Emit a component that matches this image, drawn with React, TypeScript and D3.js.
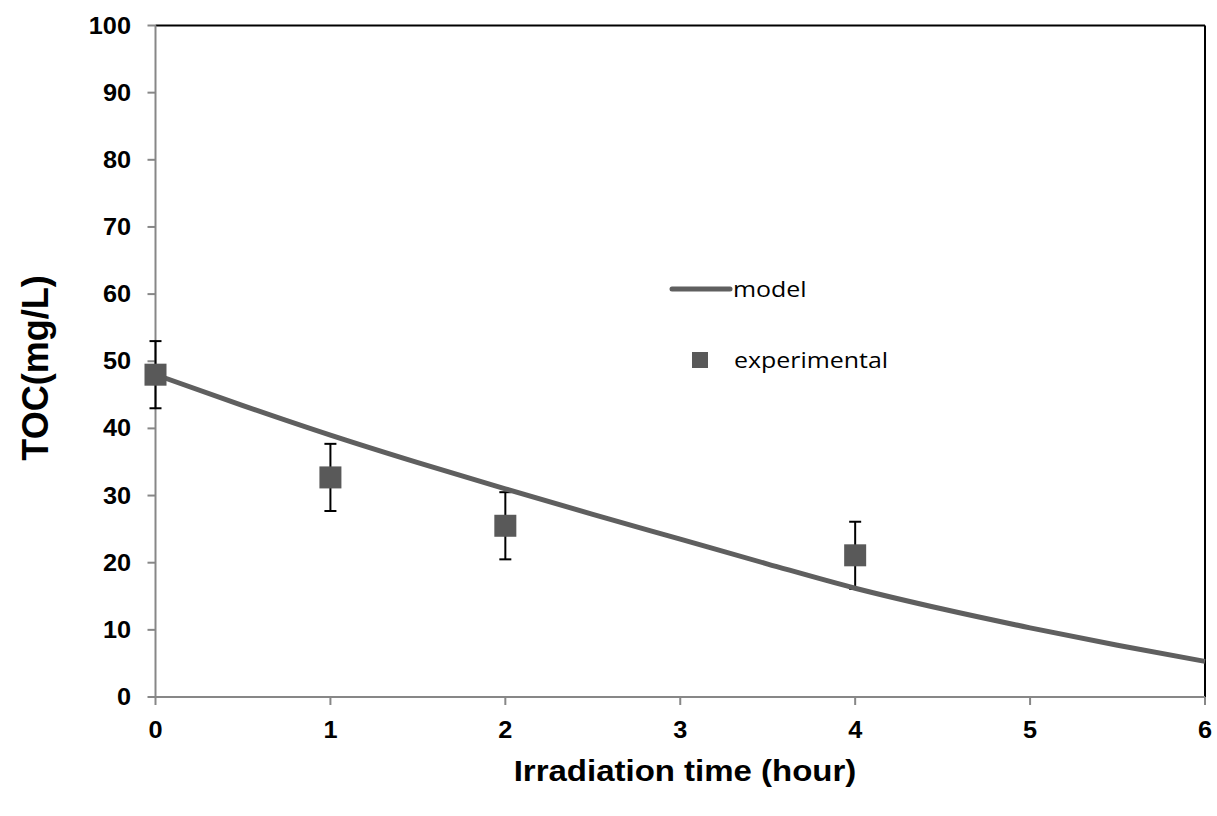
import React from "react";
import * as d3 from "d3";

const modelX = [0, 0.5, 1, 1.5, 2, 2.5, 3, 3.5, 4, 4.5, 5, 5.5, 6];
const modelY = [48, 43.4, 39.0, 34.9, 31.0, 27.2, 23.5, 19.8, 16.2, 13.1, 10.3, 7.7, 5.3];
const expX = [0, 1, 2, 4];
const expY = [48, 32.7, 25.5, 21.1];
const expErr = [5, 5, 5, 5];
const xTicks = [0, 1, 2, 3, 4, 5, 6];
const yTicks = [0, 10, 20, 30, 40, 50, 60, 70, 80, 90, 100];

export default function App() {
  const W = 1217, H = 816;
  const x = d3.scaleLinear().domain([0, 6]).range([155.5, 1205]);
  const y = d3.scaleLinear().domain([0, 100]).range([697, 25.5]);
  const line = d3
    .line<number>()
    .x((_, i) => x(modelX[i]))
    .y((d) => y(d))
    .curve(d3.curveMonotoneX);
  const bold = "Liberation Sans, Arial, sans-serif";
  const sx = 1.1;
  return (
    <svg width={W} height={H} style={{ position: "absolute", left: 0, top: 0, background: "#fff" }}>
      <rect width={W} height={H} fill="#fff" />
      <line x1={x(0)} x2={x(6)} y1={y(100)} y2={y(100)} stroke="#000" strokeWidth={2} />
      <line x1={x(6)} x2={x(6)} y1={y(100)} y2={y(0)} stroke="#000" strokeWidth={2} />
      <line x1={x(0)} x2={x(0)} y1={y(100)} y2={y(0)} stroke="#878787" strokeWidth={2} />
      {yTicks.map((t) => (
        <g key={"y" + t}>
          <line x1={x(0) - 8} x2={x(0)} y1={y(t)} y2={y(t)} stroke="#878787" strokeWidth={2} />
          <text
            transform={`translate(${131},${y(t) + 8}) scale(${sx},1)`}
            textAnchor="end"
            fontFamily={bold}
            fontWeight="bold"
            fontSize={23}
            fill="#000"
          >
            {t}
          </text>
        </g>
      ))}
      <line x1={x(0)} x2={x(6)} y1={y(0)} y2={y(0)} stroke="#878787" strokeWidth={2} />
      {xTicks.map((t) => (
        <g key={"x" + t}>
          <line x1={x(t)} x2={x(t)} y1={y(0)} y2={y(0) + 8} stroke="#878787" strokeWidth={2} />
          <text
            transform={`translate(${x(t)},${738}) scale(${sx},1)`}
            textAnchor="middle"
            fontFamily={bold}
            fontWeight="bold"
            fontSize={23}
            fill="#000"
          >
            {t}
          </text>
        </g>
      ))}
      {expX.map((v, i) => (
        <g key={"e" + i} stroke="#000" strokeWidth={2}>
          <line x1={x(v)} x2={x(v)} y1={y(expY[i] + expErr[i])} y2={y(expY[i] - expErr[i])} />
          <line x1={x(v) - 6} x2={x(v) + 6} y1={y(expY[i] + expErr[i])} y2={y(expY[i] + expErr[i])} />
          <line x1={x(v) - 6} x2={x(v) + 6} y1={y(expY[i] - expErr[i])} y2={y(expY[i] - expErr[i])} />
        </g>
      ))}
      <path d={line(modelY) || ""} fill="none" stroke="#5f5f5f" strokeWidth={5} />
      {expX.map((v, i) => (
        <rect key={"m" + i} x={x(v) - 11} y={y(expY[i]) - 11} width={22} height={22} fill="#595959" />
      ))}
      <line x1={672} x2={730} y1={289} y2={289} stroke="#5f5f5f" strokeWidth={5} strokeLinecap="round" />
      <text transform={`translate(733,297) scale(1.16,1)`} fontFamily="Open Sans, sans-serif" fontSize={21.5} fill="#000">
        model
      </text>
      <rect x={692} y={352} width={16} height={16} fill="#595959" />
      <text transform={`translate(734,368) scale(1.16,1)`} fontFamily="Open Sans, sans-serif" fontSize={21.5} fill="#000">
        experimental
      </text>
      <text
        transform={`translate(685,781) scale(1.1,1)`}
        textAnchor="middle"
        fontFamily={bold}
        fontWeight="bold"
        fontSize={30}
        fill="#000"
      >
        Irradiation time (hour)
      </text>
      <text
        transform={`translate(48,368) rotate(-90)`}
        textAnchor="middle"
        fontFamily={bold}
        fontWeight="bold"
        fontSize={36}
        fill="#000"
      >
        TOC(mg/L)
      </text>
    </svg>
  );
}
